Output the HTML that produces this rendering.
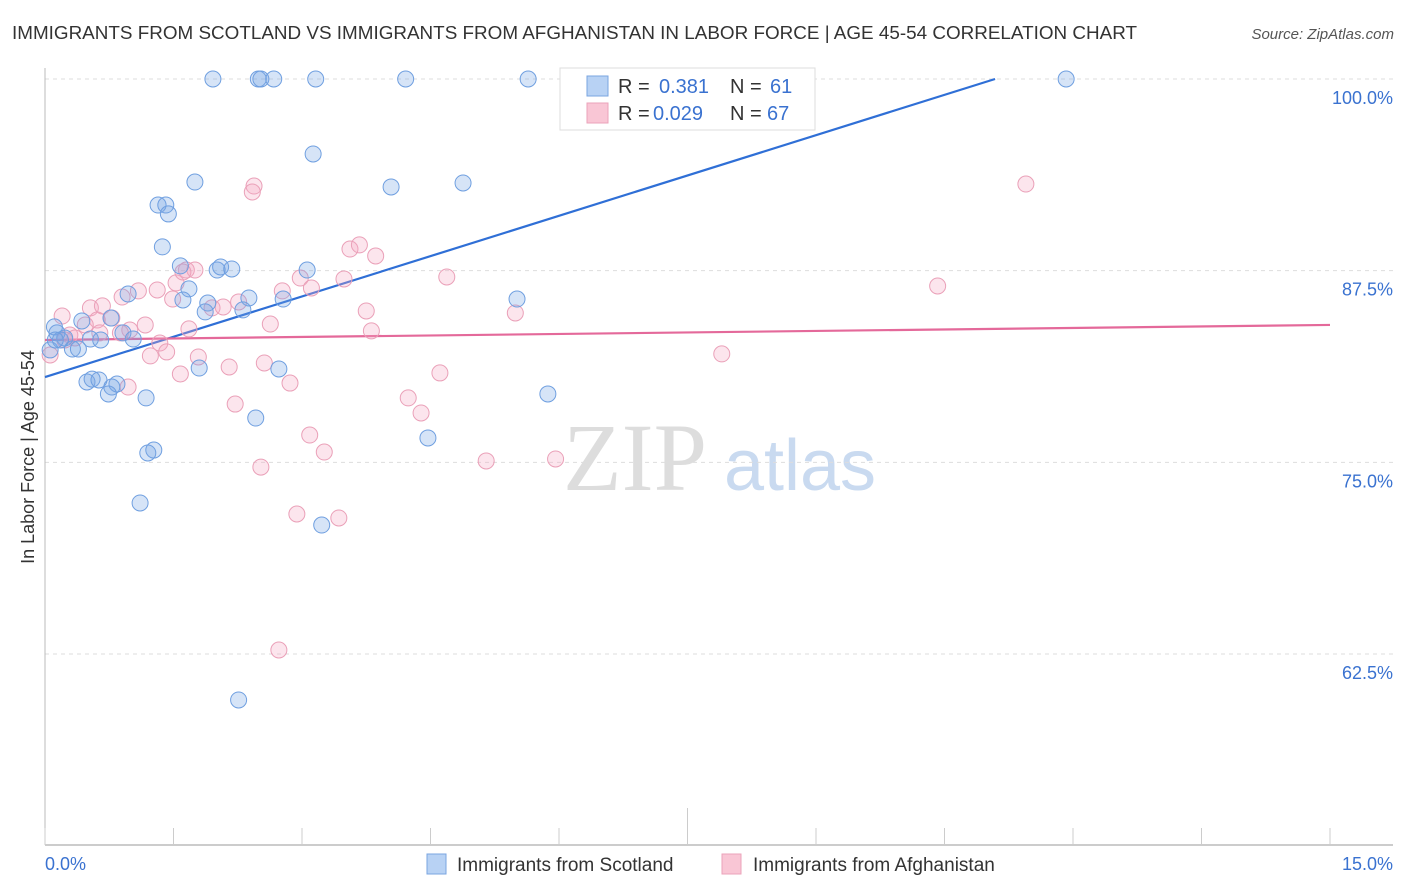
<!DOCTYPE html>
<html><head><meta charset="utf-8"><style>
body{margin:0;background:#fff;font-family:"Liberation Sans",sans-serif;}
svg{display:block}
</style></head><body>
<svg id="chart" width="1406" height="892" viewBox="0 0 1406 892" xmlns="http://www.w3.org/2000/svg">
<text x="12" y="39" font-size="18.5" fill="#333" textLength="1125" lengthAdjust="spacingAndGlyphs">IMMIGRANTS FROM SCOTLAND VS IMMIGRANTS FROM AFGHANISTAN IN LABOR FORCE | AGE 45-54 CORRELATION CHART</text>
<text x="1394" y="39" font-size="15" fill="#555" text-anchor="end" font-style="italic">Source: ZipAtlas.com</text>
<text transform="translate(34,457) rotate(-90)" font-size="18" fill="#333" text-anchor="middle">In Labor Force | Age 45-54</text>
<g>
<text x="635" y="490" font-size="96" fill="#ddd" text-anchor="middle" font-family="Liberation Serif,serif">ZIP</text>
<text x="800" y="490" font-size="72" fill="#c9daf0" text-anchor="middle">atlas</text>
</g>
<g id="grid"></g><g id="axes"></g><g id="lines"></g><g id="pts"></g>
<g>
<rect x="560" y="68" width="255" height="62" fill="#fff" stroke="#ddd"/>
<rect x="587" y="76" width="21" height="20" fill="#b8d2f4" stroke="#7aa5e0"/>
<text x="618" y="93" font-size="20" fill="#333">R = </text><text x="659" y="93" font-size="20" fill="#3a72d0">0.381</text>
<text x="730" y="93" font-size="20" fill="#333">N = </text><text x="770" y="93" font-size="20" fill="#3a72d0">61</text>
<rect x="587" y="103" width="21" height="20" fill="#f9c6d5" stroke="#eba3ba"/>
<text x="618" y="120" font-size="20" fill="#333">R = </text><text x="653" y="120" font-size="20" fill="#3a72d0">0.029</text>
<text x="730" y="120" font-size="20" fill="#333">N = </text><text x="767" y="120" font-size="20" fill="#3a72d0">67</text>
</g>
<g>
<rect x="427" y="854" width="19" height="20" fill="#b8d2f4" stroke="#7aa5e0"/>
<text x="457" y="871" font-size="19" fill="#333">Immigrants from Scotland</text>
<rect x="722" y="854" width="19" height="20" fill="#f9c6d5" stroke="#eba3ba"/>
<text x="753" y="871" font-size="19" fill="#333">Immigrants from Afghanistan</text>
</g>
</svg>
<script>
const yTicks=[100,87.5,75,62.5];
const yTickLabels=["100.0%","87.5%","75.0%","62.5%"];
const xTickLabels=["0.0%","15.0%"];
const blueX=[1.96,2.49,2.52,2.67,3.16,4.21,5.64,11.92,3.13,1.75,4.04,4.88,1.32,1.41,1.44,1.37,1.58,2.01,2.05,2.18,3.06,1.68,1.61,1.90,2.38,2.78,0.97,5.51,1.87,2.31,0.11,0.43,0.77,0.91,1.03,0.14,0.23,0.53,0.65,0.32,0.39,0.18,1.80,2.73,0.49,0.55,0.63,0.84,0.78,0.74,1.18,5.87,2.46,4.47,1.27,1.20,1.11,3.23,2.26,0.06,0.12];
const blueY=[100,100,100,100,100,100,100,100,95.11,93.28,92.96,93.22,91.78,91.78,91.2,89.05,87.81,87.54,87.74,87.61,87.54,86.31,85.59,85.39,85.72,85.65,85.98,85.65,84.81,84.94,83.83,84.22,84.41,83.44,83.04,83.44,83.11,83.04,82.98,82.39,82.39,82.98,81.15,81.09,80.24,80.43,80.37,80.11,79.91,79.46,79.2,79.46,77.89,76.59,75.8,75.61,72.35,70.91,59.5,82.33,82.98];
const pinkX=[0.06,0.20,0.53,0.67,0.61,0.78,0.29,0.35,0.23,0.47,0.90,1.09,1.31,1.49,1.53,1.65,1.75,1.61,1.95,2.08,2.26,0.99,1.17,1.34,1.42,1.23,1.68,1.79,1.58,2.15,2.22,2.56,2.63,2.77,2.86,2.98,3.11,2.44,2.42,3.09,3.26,2.94,3.43,2.52,3.49,3.56,3.67,3.86,3.75,3.81,4.24,4.39,4.61,4.69,5.15,5.49,5.96,7.90,10.42,11.45,2.73,0.97,0.88,0.64];
const pinkY=[82.0,84.54,85.07,85.2,84.28,84.41,83.3,83.11,82.98,83.96,85.78,86.18,86.24,85.65,86.7,87.54,87.54,87.41,85.07,85.13,85.46,83.63,83.96,82.78,82.2,81.94,83.7,81.87,80.76,81.22,78.8,81.48,84.02,86.18,80.17,87.02,86.37,93.02,92.63,76.78,75.67,71.63,71.37,74.69,86.96,88.91,89.18,88.46,84.87,83.57,79.2,78.22,80.83,87.09,75.09,84.74,75.22,82.07,86.5,93.15,62.76,79.91,83.44,83.44];
const blueTrend=[[0,80.56],[11.09,100]];
const pinkTrend=[[0,82.98],[15,83.96]];
const NS="http://www.w3.org/2000/svg";
const xs=v=>45+v/15*1285, ys=v=>79+(100-v)*15.333;
function mk(t,a,p){const e=document.createElementNS(NS,t);for(const k in a)e.setAttribute(k,a[k]);p.appendChild(e);return e;}
const grid=document.getElementById('grid'),axes=document.getElementById('axes');
yTicks.forEach((v,i)=>{
 const l=mk('line',{x1:45,x2:1393,y1:ys(v),y2:ys(v),stroke:'#ddd','stroke-dasharray':'4,4'},grid);
 
 
 const t=mk('text',{x:1393,y:ys(v)+25,'font-size':18,fill:'#3a72d0','text-anchor':'end'},grid);
 t.textContent=yTickLabels[i];
 
 
});
const ya=mk('line',{x1:45,x2:45,y1:68,y2:845,stroke:'#bbb'},axes);


const xa=mk('line',{x1:45,x2:1393,y1:845,y2:845,stroke:'#bbb','stroke-width':1.5},axes);


for(let i=0;i<=10;i++){const x=xs(i*1.5);const tk=mk('line',{x1:x,x2:x,y1:i==5?808:828,y2:845,stroke:'#ccc'},axes);
 
 }
[[0,'start'],[15,'end']].forEach((d,i)=>{const t=mk('text',{x:xs(d[0])+(i?63:0),y:870,'font-size':18,fill:'#3a72d0','text-anchor':d[1]},axes);t.textContent=xTickLabels[i];
 
 });
const lines=document.getElementById('lines'),pts=document.getElementById('pts');
function series(X,Y,fill,stroke,name){X.forEach((x,i)=>{const c=mk('circle',{cx:xs(x),cy:ys(Y[i]),r:8,fill:fill,stroke:stroke,'stroke-width':1},pts);
 
 });}
series(pinkX,pinkY,'rgba(244,170,195,0.3)','#eaa0b8','afghanistan-point');
series(blueX,blueY,'rgba(120,165,230,0.3)','#6f9fe0','scotland-point');
const bl=mk('line',{x1:xs(blueTrend[0][0]),y1:ys(blueTrend[0][1]),x2:xs(blueTrend[1][0]),y2:ys(blueTrend[1][1]),stroke:'#2f6fd6','stroke-width':2.2},lines);


const pl=mk('line',{x1:xs(pinkTrend[0][0]),y1:ys(pinkTrend[0][1]),x2:xs(pinkTrend[1][0]),y2:ys(pinkTrend[1][1]),stroke:'#e4699a','stroke-width':2.2},lines);


</script>
</body></html>
